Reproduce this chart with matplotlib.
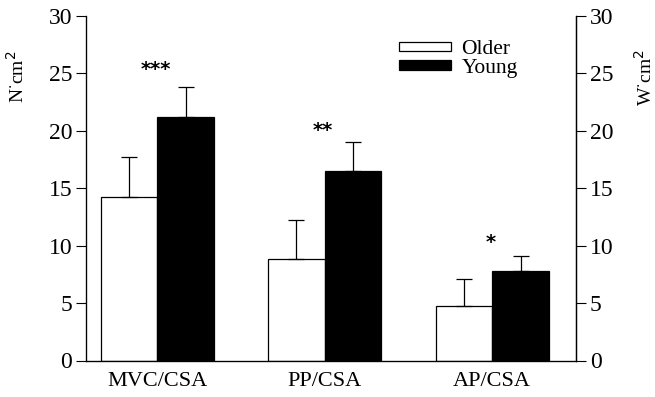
import matplotlib
matplotlib.use("Agg")
import matplotlib.pyplot as plt
import numpy as np

categories = ["MVC/CSA", "PP/CSA", "AP/CSA"]
older = [14.25, 8.85, 4.78]
older_err = [3.5, 3.35, 2.3]
young = [21.2, 16.5, 7.8]
young_err = [2.65, 2.5, 1.3]
stars = ["***", "**", "*"]
star_y = [25.3, 20.0, 10.3]
series_names = ["Older", "Young"]

plt.rcParams['font.family'] = ['Liberation Serif', 'DejaVu Serif']

fig = plt.figure(figsize=(6.55, 3.97), dpi=100)
ax = fig.add_axes([86/655, 1-360.5/397, 490/655, (360.5-16)/397])

x = np.arange(len(categories))
w = 0.338
ax.bar(x - w/2, older, w, color='white', edgecolor='black', linewidth=0.9,
       yerr=[np.zeros(3), older_err], capsize=5.5,
       error_kw=dict(elinewidth=0.9, capthick=0.9, ecolor='black'), label=series_names[0])
ax.bar(x + w/2, young, w, color='black', edgecolor='black', linewidth=0.9,
       yerr=[np.zeros(3), young_err], capsize=5.5,
       error_kw=dict(elinewidth=0.9, capthick=0.9, ecolor='black'), label=series_names[1])

for xi, s, sy in zip(x, stars, star_y):
    ax.text(xi - 0.01, sy, s, ha='center', va='center', fontsize=14, fontweight='bold',
            family=['DejaVu Sans'])

ax.set_xlim(-0.425, 2.5)
ax.set_ylim(0, 30)
ax.set_yticks(range(0, 31, 5))
ax.set_xticks(x)
ax.set_xticklabels(categories, fontsize=16)
ax.tick_params(axis='x', length=0, pad=8)
ax.tick_params(axis='y', direction='out', length=7, width=0.8, labelsize=17, pad=3)
ax.spines['top'].set_visible(False)
for s in ['left', 'right', 'bottom']:
    ax.spines[s].set_linewidth(0.9)

ax2 = ax.twinx()
ax2.set_ylim(0, 30)
ax2.set_yticks(range(0, 31, 5))
ax2.tick_params(axis='y', direction='out', length=7, width=0.8, labelsize=17, pad=3)
ax2.spines['top'].set_visible(False)
ax2.spines['right'].set_linewidth(0.9)

fig.text(17/655, 1-77/397, "N$^{\\cdot}$cm$^{2}$", rotation=90, ha='center', va='center', fontsize=14)
fig.text(645/655, 1-78/397, "W$^{\\cdot}$cm$^{2}$", rotation=90, ha='center', va='center', fontsize=14)

ax.legend(loc='upper left', bbox_to_anchor=(399/655, 1-40/397), bbox_transform=fig.transFigure,
          frameon=False, fontsize=15.5, handlelength=2.4, handleheight=0.3,
          handletextpad=0.5, labelspacing=-0.02, borderpad=0, borderaxespad=0)

fig.savefig("out.png", dpi=100)
